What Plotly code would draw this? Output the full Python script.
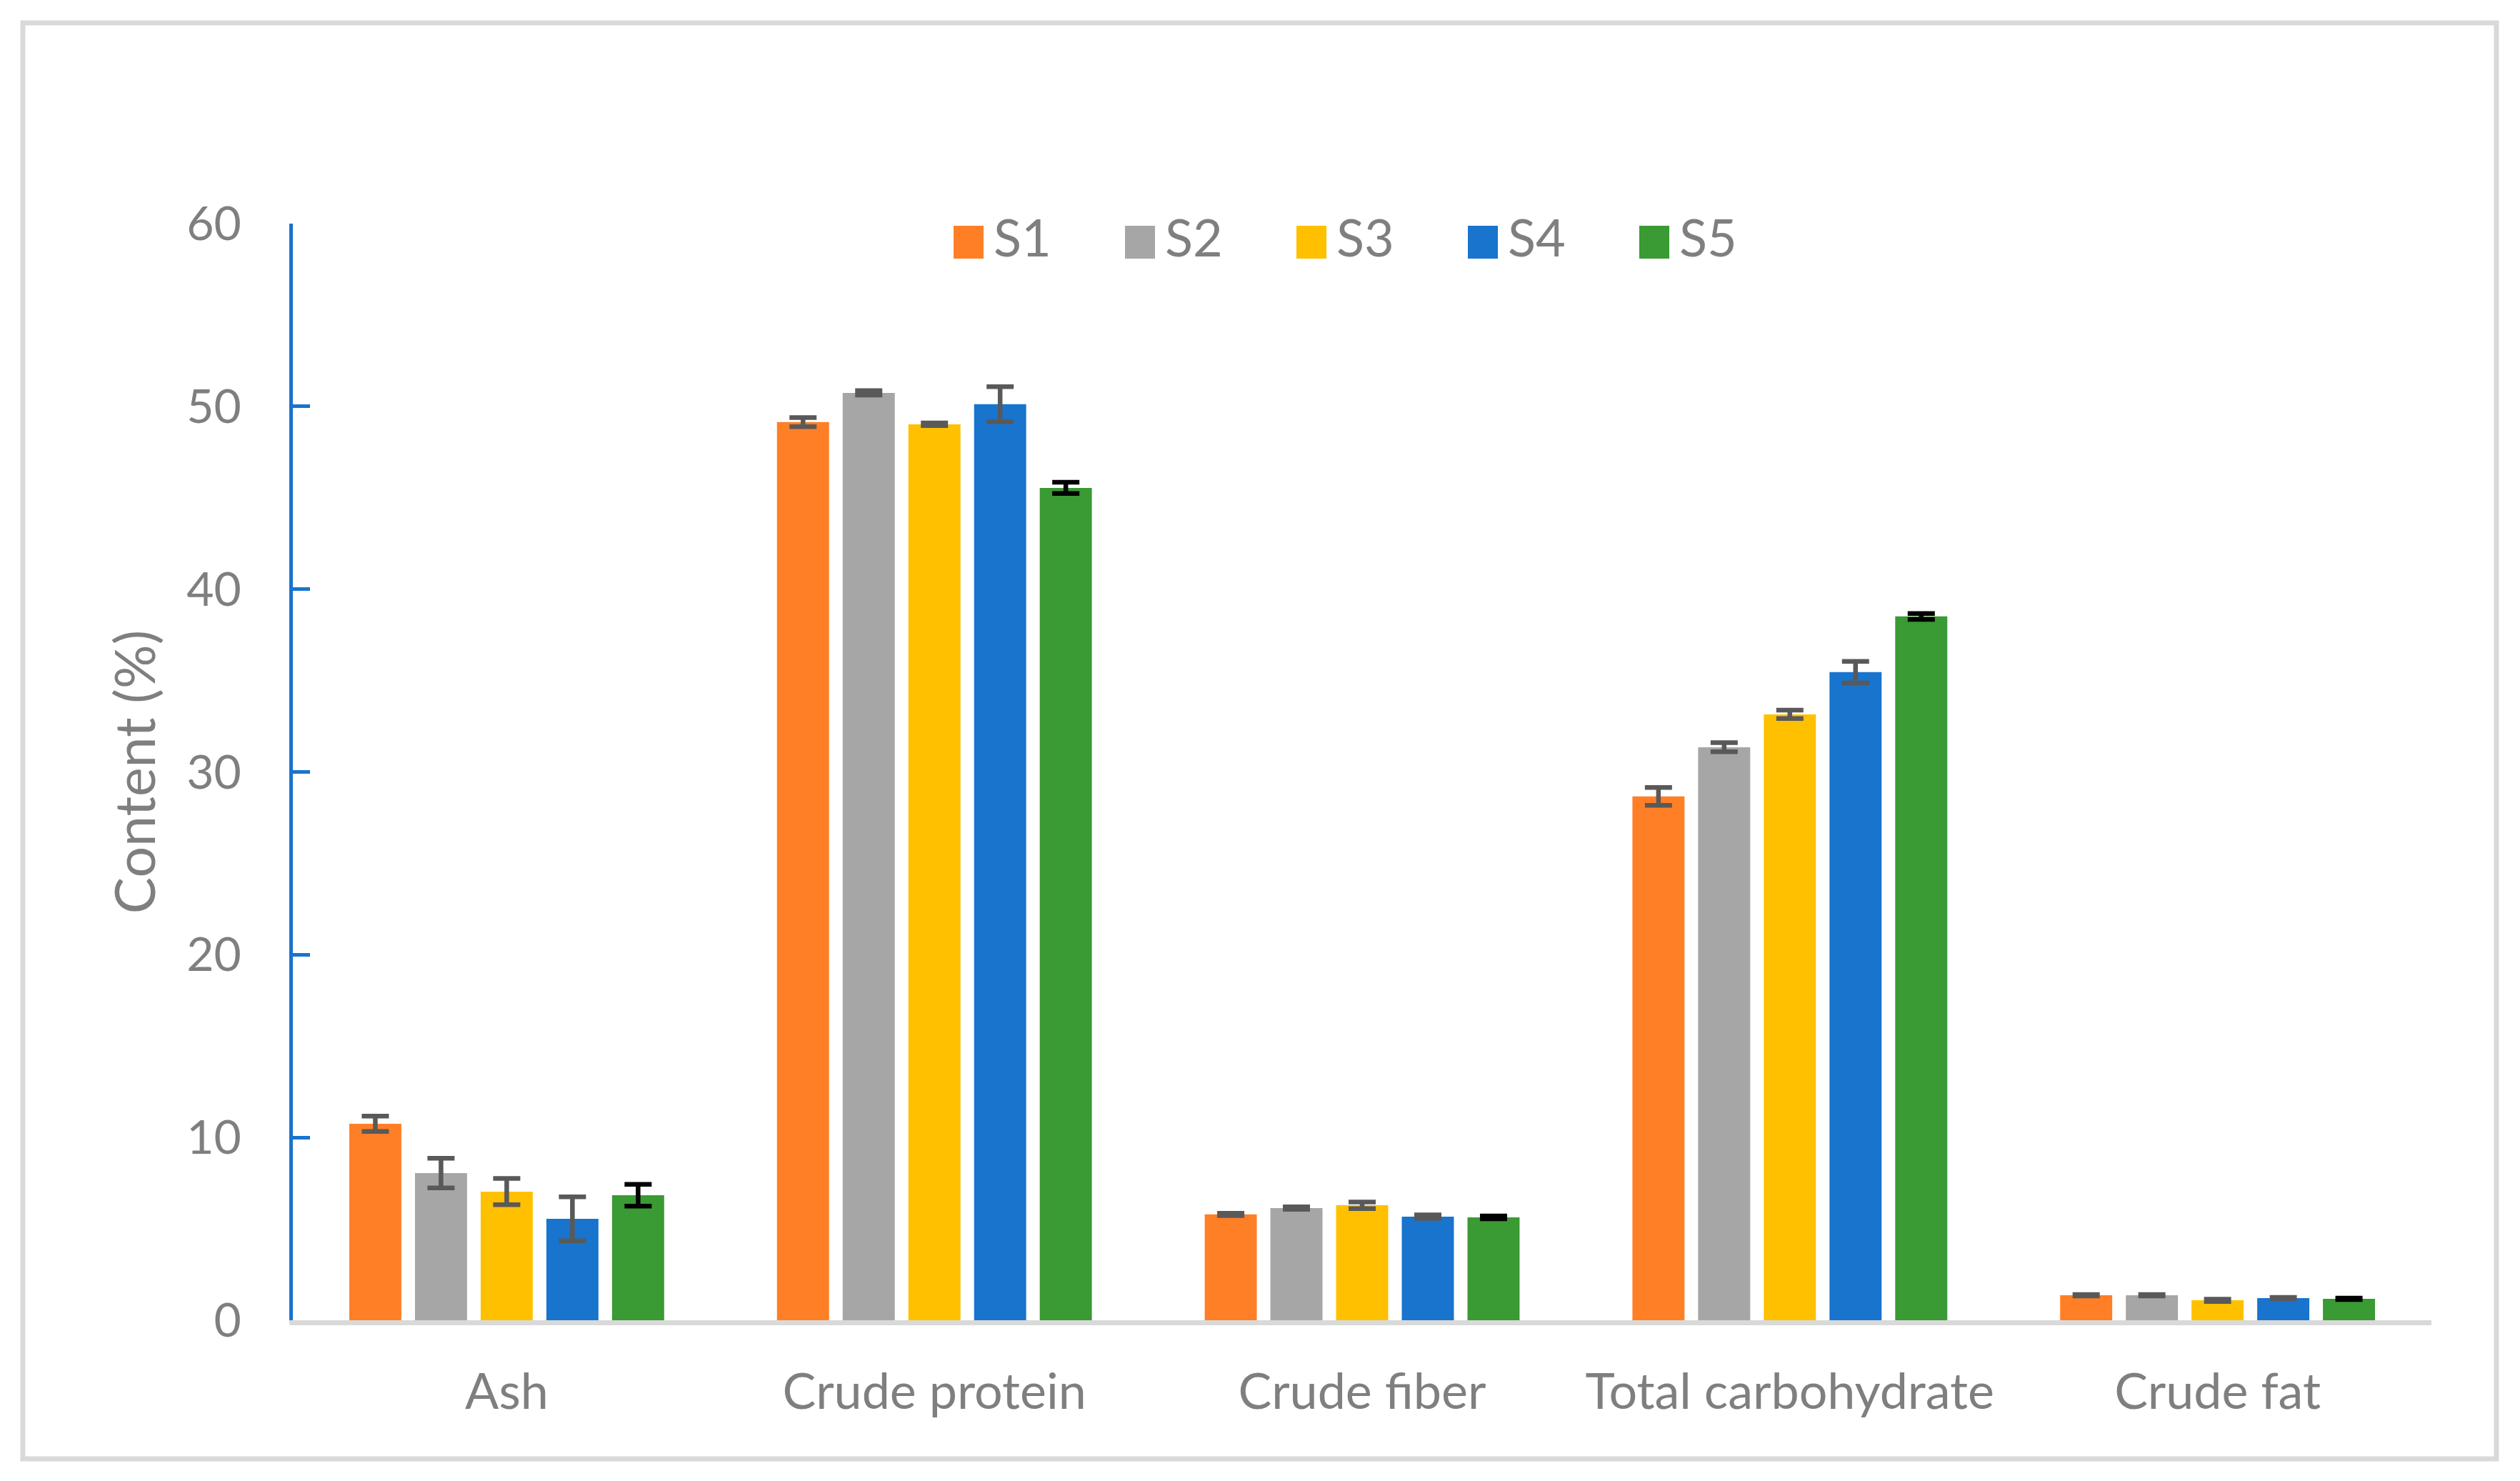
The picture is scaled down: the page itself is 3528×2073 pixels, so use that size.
import plotly.graph_objects as go

categories = ["Ash", "Crude protein", "Crude fiber", "Total carbohydrate", "Crude fat"]
series_names = ["S1", "S2", "S3", "S4", "S5"]

s1_values = [10.75, 49.14, 5.79, 28.66, 1.37]
s2_values = [8.05, 50.74, 6.14, 31.35, 1.37]
s3_values = [7.04, 49.02, 6.29, 33.15, 1.09]
s4_values = [5.55, 50.12, 5.67, 35.46, 1.21]
s5_values = [6.84, 45.54, 5.63, 38.51, 1.17]

s1_errors = [0.42, 0.25, 0.06, 0.49, 0.04]
s2_errors = [0.81, 0.12, 0.07, 0.25, 0.04]
s3_errors = [0.72, 0.07, 0.18, 0.23, 0.06]
s4_errors = [1.20, 0.96, 0.10, 0.59, 0.04]
s5_errors = [0.60, 0.31, 0.08, 0.16, 0.04]

y_tick_values = [0, 10, 20, 30, 40, 50, 60]

colors = ["#FF7F27", "#A6A6A6", "#FFC000", "#1874CD", "#3A9A33"]
err_colors = ["#595959", "#595959", "#595959", "#595959", "#000000"]

values = [s1_values, s2_values, s3_values, s4_values, s5_values]
errors = [s1_errors, s2_errors, s3_errors, s4_errors, s5_errors]

FONT = "Lato"
GRAY_TEXT = "#7F7F7F"

fig = go.Figure()
for name, vals, errs, c, ec in zip(series_names, values, errors, colors, err_colors):
    fig.add_trace(go.Bar(
        name=name, x=categories, y=vals,
        marker=dict(color=c, line=dict(width=0)),
        error_y=dict(type="data", array=errs, visible=True,
                     color=ec, thickness=6.5, width=19),
        showlegend=False,
    ))

# page body has an 8px margin, so the figure is made 8px smaller
OFF = 8
W, H = 3528 - OFF, 2073 - OFF
ml, mt = 410 - OFF, 313 - OFF
pw, ph = 2994, 1535
mr, mb = W - ml - pw, H - mt - ph

# helpers: window pixel -> paper fraction
def px_x(x):
    return (x - OFF - ml) / pw

def px_y(y):
    return (mt + ph - (y - OFF)) / ph

# legend (drawn as swatches + text)
LEG_X0, LEG_STEP, LEG_SW, LEG_SH, LEG_YC = 1335, 240, 42, 46, 339
shapes = [dict(
    type="rect", xref="paper", yref="paper",
    x0=px_x(32), x1=px_x(3495), y0=px_y(2042), y1=px_y(32),
    line=dict(color="#D9D9D9", width=7), fillcolor="rgba(0,0,0,0)",
    layer="below",
)]
annotations = []
for i, (name, c) in enumerate(zip(series_names, colors)):
    x0 = LEG_X0 + i * LEG_STEP
    shapes.append(dict(
        type="rect", xref="paper", yref="paper",
        x0=px_x(x0), x1=px_x(x0 + LEG_SW),
        y0=px_y(LEG_YC + LEG_SH / 2), y1=px_y(LEG_YC - LEG_SH / 2),
        line=dict(width=0), fillcolor=c,
    ))
    annotations.append(dict(
        text=name, xref="paper", yref="paper",
        x=px_x(x0 + LEG_SW + 12), y=px_y(LEG_YC - 8),
        xanchor="left", yanchor="middle", showarrow=False,
        font=dict(family=FONT, size=72, color=GRAY_TEXT),
    ))

fig.update_layout(
    width=W, height=H,
    margin=dict(l=ml, r=mr, t=mt, b=mb, autoexpand=False),
    paper_bgcolor="white", plot_bgcolor="white",
    barmode="group", bargap=0.232, bargroupgap=0.207,
    font=dict(family=FONT, color=GRAY_TEXT, size=66),
    showlegend=False,
    xaxis=dict(
        showline=True, linecolor="#D9D9D9", linewidth=7,
        ticks="", showgrid=False, zeroline=False,
        tickfont=dict(family=FONT, size=70, color=GRAY_TEXT),
        ticklabelstandoff=33,
    ),
    yaxis=dict(
        range=[0, 60], tickvals=y_tick_values,
        showline=True, linecolor="#1874CD", linewidth=5,
        ticks="inside", ticklen=24, tickwidth=4.5, tickcolor="#1874CD",
        showgrid=False, zeroline=False,
        tickfont=dict(family=FONT, size=66, color=GRAY_TEXT),
        ticklabelstandoff=54,
        title=dict(text="Content (%)", font=dict(family=FONT, size=77, color=GRAY_TEXT),
                   standoff=20),
    ),
    shapes=shapes,
    annotations=annotations,
)

fig.write_html("out.html")
